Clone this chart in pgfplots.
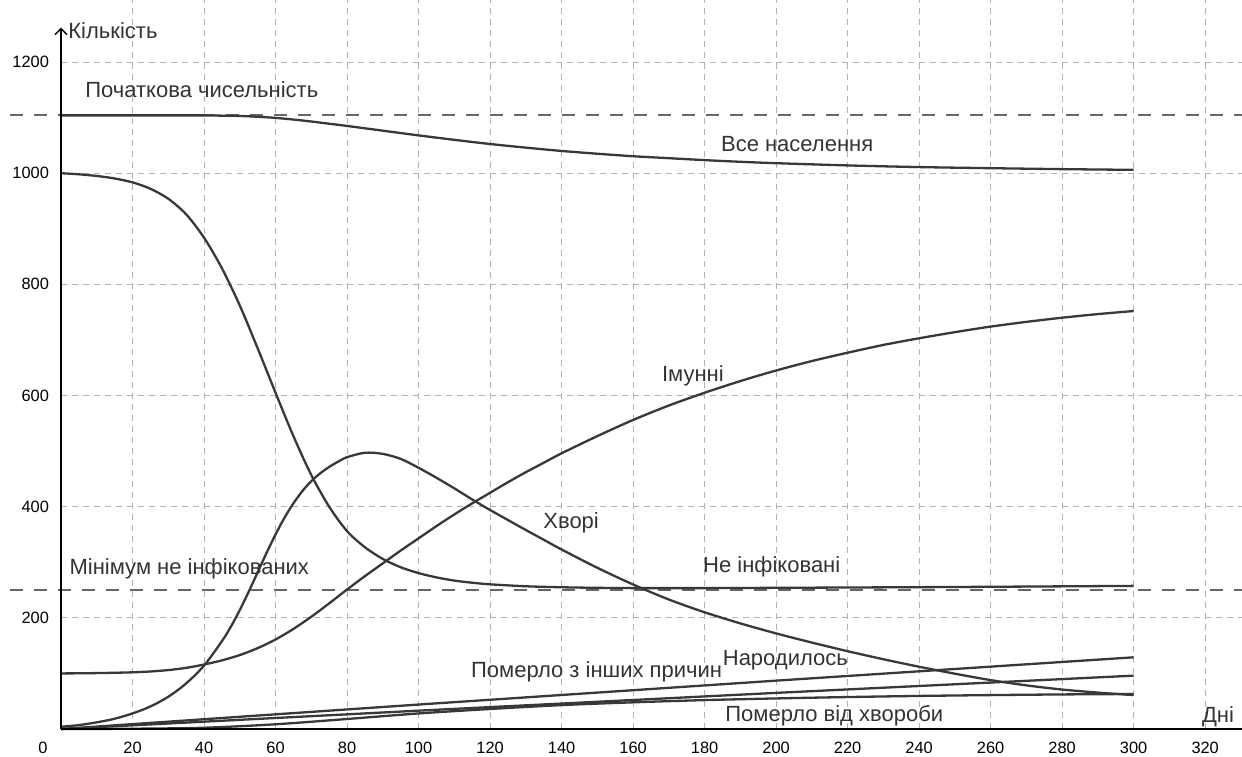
\documentclass[border=0pt]{standalone}
\usepackage{fontspec}
\setmainfont{Liberation Sans}
\usepackage{pgfplots}
\usepackage{pgfplotstable}
\pgfplotsset{compat=1.18}
\usetikzlibrary{arrows.meta}
\tikzset{
  lbl/.style={anchor=base west, inner sep=0pt, text=black!80, font=\fontsize{11}{13}\selectfont},
  crv/.style={black!78, line width=1.15pt, no marks, solid},
  lvl/.style={black!60, line width=1pt, no marks, dash pattern=on 6.5pt off 5.5pt},
}

% S - не інфіковані
\pgfplotstableread{
d   v
0   1000
5   998
10  995
15  990.5
20  983.5
25  972
30  954
35  926
40  884
45  829
50  762
55  685
60  605
65  527
70  457
75  400
80  356
85  327
90  306
95  291
100 280.5
105 272.8
110 267
115 263.2
120 260.3
130 256.8
140 255
150 254
160 253.5
180 253.5
200 254
250 255.5
300 257.5
}\susc
% I - хворі
\pgfplotstableread{
d   v
0   4
5   7
10  12
15  18.5
20  28
25  40.5
30  58
35  82
40  114
45  158
47.5 184
50  214
52.5 247
55  282
57.5 317
60  350
62.5 380
65  406
67.5 428
70  446
72.5 460
75  471.5
77.5 481
80  489
85  497
90  495
95  486
100 470
105 452
110 433
115 413
120 394
125 376
130 358
135 340.5
140 323
150 290
160 260
170 233
180 210
190 190
200 172
210 155.5
220 140
230 125.5
240 112
250 99.5
260 88
270 78.5
280 71
290 65.5
300 61
}\infc
% R - імунні
\pgfplotstableread{
d   v
0   100
5   100.2
10  100.6
15  101.2
20  102
25  103.5
30  106
35  110
40  116
45  123.5
50  133
55  145.5
60  161
65  180
70  202
75  226
80  251
85  275
90  298
95  321
100 343
105 365
110 386
115 406
120 425
125 444
130 462
135 479
140 496
150 527
160 556
170 582
180 605
190 626
200 645
210 662
220 677
230 691
240 703
250 714
260 724
270 732.5
280 740
290 746.5
300 752
}\immun
% N - все населення
\pgfplotstableread{
d   v
0   1104
10  1104
20  1104
30  1104
40  1104
45  1103.5
50  1103
55  1101.5
60  1099.5
65  1096.5
70  1093
75  1089
80  1085
90  1076.5
100 1068
110 1060
120 1052.5
130 1046
140 1040
150 1035
160 1030.5
170 1027
180 1023.5
190 1020.5
200 1018
220 1014
240 1011
260 1009
280 1007.3
300 1006
}\total
% померло від хвороби
\pgfplotstableread{
d   v
0   0
20  0.5
40  2.3
60  8.5
80  18
100 28
120 36
140 43
160 48
180 52
200 55
220 57.5
240 59.5
260 61
280 62.2
300 63
}\deadill

\begin{document}
\begin{tikzpicture}
\begin{axis}[
  scale only axis, width=590.5pt, height=364.5pt,
  xmin=0, xmax=330.3, ymin=0, ymax=1311.6,
  axis x line=bottom, axis y line=left,
  axis line style={draw=none},
  clip=false,
  xtick={20,40,...,320}, ytick={200,400,...,1200},
  major tick length=0pt,
  grid=major,
  major grid style={black!30, line width=0.5pt, dash pattern=on 3pt off 2.5pt},
  tick label style={font=\fontsize{8.2}{9}\selectfont, black},
  /pgf/number format/assume math mode=true,
  /pgf/number format/1000 sep={},
  yticklabel style={xshift=-2.5pt},
  xticklabel style={yshift=-2.8pt},
]
% пунктирні рівні
\addplot[lvl] coordinates {(-14.3,1104) (330.3,1104)};
\addplot[lvl] coordinates {(-14.3,250) (330.3,250)};

\addplot[crv, smooth] table[x=d, y=v] {\total};
\addplot[crv, smooth] table[x=d, y=v] {\susc};
\addplot[crv, smooth] table[x=d, y=v] {\infc};
\addplot[crv, smooth] table[x=d, y=v] {\immun};
% померло з інших причин, народилось, померло від хвороби
\addplot[crv, sharp plot] coordinates {(0,0) (100,44) (200,87) (300,129)};
\addplot[crv, sharp plot] coordinates {(0,0) (100,33) (200,65) (300,96)};
\addplot[crv, smooth] table[x=d, y=v] {\deadill};

% осі
\draw[black, line width=0.7pt] (axis cs:0,0) -- (axis cs:330.3,0);
\draw[black, line width=0.7pt, -{Straight Barb[length=3pt,width=6pt]}] (axis cs:0,0) -- (axis cs:0,1262);
\node[anchor=north, font=\fontsize{8.2}{9}\selectfont, xshift=-9pt, yshift=-2.8pt] at (axis cs:0,0) {0};

\node[lbl] at (axis cs:1.96,1243) {Кількість};
\node[lbl] at (axis cs:319,12) {Дні};
\node[lbl] at (axis cs:6.7,1137) {Початкова чисельність};
\node[lbl] at (axis cs:184.5,1039) {Все населення};
\node[lbl] at (axis cs:168,625) {Імунні};
\node[lbl] at (axis cs:134.8,360) {Хворі};
\node[lbl] at (axis cs:2.3,278) {Мінімум не інфікованих};
\node[lbl] at (axis cs:179.5,281) {Не інфіковані};
\node[lbl] at (axis cs:114.6,93) {Померло з інших причин};
\node[lbl] at (axis cs:185,114) {Народилось};
\node[lbl] at (axis cs:185.7,14) {Померло від хвороби};
\end{axis}
\pgfresetboundingbox
\path[use as bounding box] ([xshift=-30.5pt,yshift=-13.5pt]current axis.south west) rectangle (current axis.north east);
\end{tikzpicture}
\end{document}
